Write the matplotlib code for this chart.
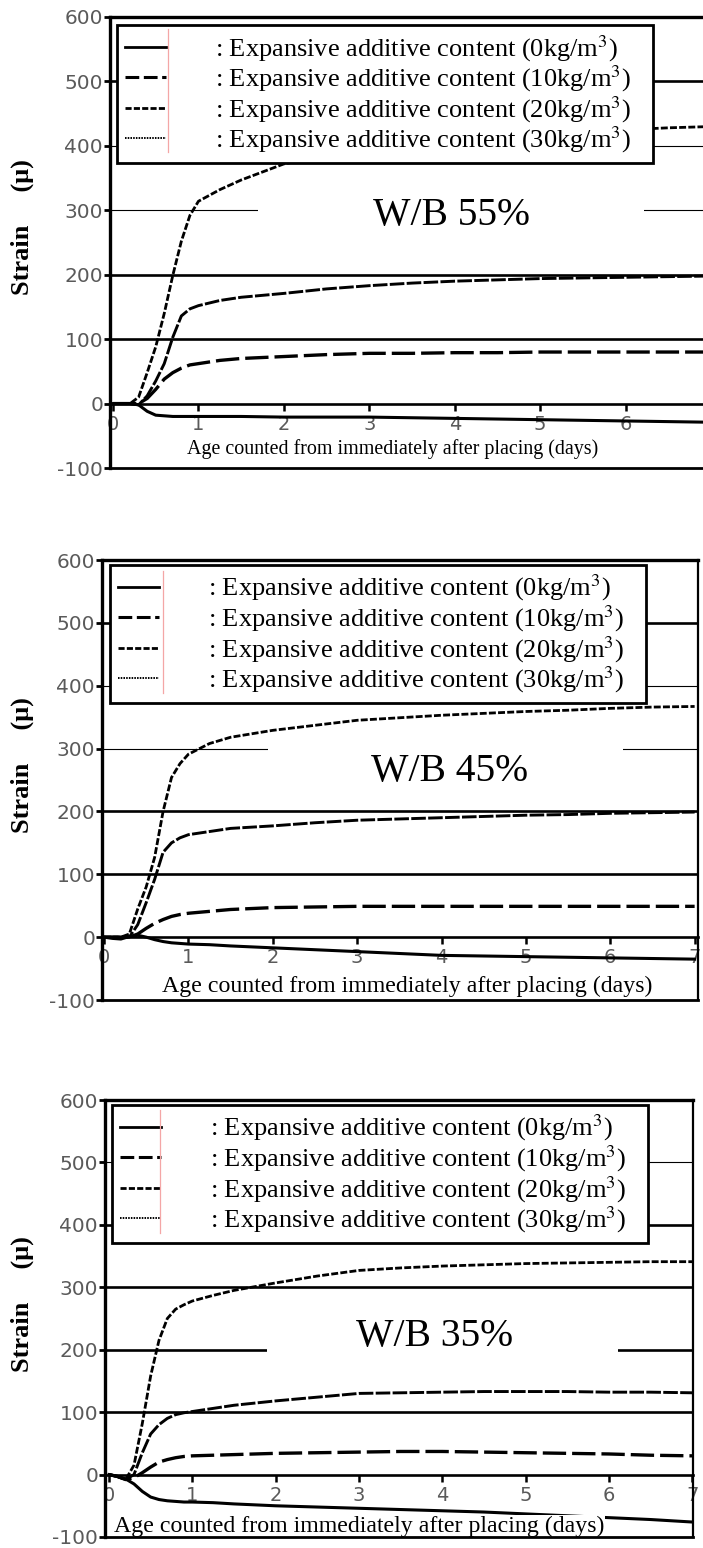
import matplotlib
matplotlib.use("Agg")
import matplotlib.pyplot as plt
from matplotlib.lines import Line2D
from matplotlib.patches import Rectangle

plt.rcParams["mathtext.fontset"] = "stix"
plt.rcParams["axes.unicode_minus"] = False

SERIF = "Liberation Serif"

# sampling days shared by all curves (days after placing)
days = [0, 0.1, 0.2, 0.3, 0.4, 0.5, 0.6, 0.7, 0.8, 0.9, 1.0, 1.25, 1.5,
        2, 2.5, 3, 3.5, 4, 4.5, 5, 5.5, 6, 6.5, 7]

contents = [0, 10, 20, 30]  # kg/m3

# W/B 55%
wb55_0 = [0, 0, 0, -2, -12, -18, -19, -20, -20, -20, -20, -20, -20,
          -21, -21, -21, -22, -23, -24, -25, -26, -27, -28, -29]
wb55_10 = [0, 0, 0, 0, 8, 22, 38, 48, 55, 60, 62, 67, 70,
           73, 76, 78, 78, 79, 79, 80, 80, 80, 80, 80]
wb55_20 = [0, 0, 0, -2, 12, 35, 62, 103, 136, 147, 152, 160, 165,
           171, 178, 183, 187, 190, 192, 194, 195, 196, 197, 198]
wb55_30 = [0, 0, 0, 10, 48, 88, 140, 199, 252, 292, 314, 332, 347,
           372, 385, 395, 403, 410, 415, 419, 422, 425, 428, 430]

# W/B 45%
wb45_0 = [0, -2, -3, 1, 3, 0, -4, -7, -9, -10, -11, -12, -14,
          -17, -20, -23, -26, -29, -30, -31, -32, -33, -34, -35]
wb45_10 = [0, 0, 0, 0, 5, 14, 22, 28, 33, 36, 38, 41, 44,
           47, 48, 49, 49, 49, 49, 49, 49, 49, 49, 49]
wb45_20 = [0, 0, 0, 0, 20, 55, 92, 135, 150, 158, 163, 168, 173,
           177, 182, 186, 188, 190, 192, 194, 195, 197, 198, 199]
wb45_30 = [0, 0, 0, 5, 45, 80, 127, 200, 254, 276, 291, 308, 318,
           329, 337, 345, 349, 353, 356, 359, 361, 364, 366, 367]

# W/B 35%
wb35_0 = [0, -3, -7, -15, -27, -36, -40, -42, -43, -44, -44, -45, -47,
          -50, -52, -54, -56, -58, -60, -63, -66, -69, -72, -76]
wb35_10 = [0, -3, -8, -5, 3, 12, 20, 24, 27, 29, 30, 31, 32,
           34, 35, 36, 37, 37, 36, 35, 34, 33, 31, 30]
wb35_20 = [0, -3, -8, 0, 35, 65, 80, 90, 96, 99, 101, 106, 111,
           118, 124, 130, 131, 132, 133, 133, 133, 132, 132, 131]
wb35_30 = [0, -3, -8, 15, 82, 158, 215, 250, 265, 272, 278, 287, 295,
           307, 318, 327, 331, 334, 336, 338, 339, 340, 341, 341]

panel_titles = ["W/B 55%", "W/B 45%", "W/B 35%"]
panel_series = [
    [wb55_0, wb55_10, wb55_20, wb55_30],
    [wb45_0, wb45_10, wb45_20, wb45_30],
    [wb35_0, wb35_10, wb35_20, wb35_30],
]

y_ticks = [-100, 0, 100, 200, 300, 400, 500, 600]
x_ticks = [0, 1, 2, 3, 4, 5, 6, 7]
xlabel_text = "Age counted from immediately after placing (days)"
ylabel_text = "Strain     (\u03bc)"

# ---- layout (pixels of the 703 x 1548 image) ----
W, H = 703, 1548
panels = [
    dict(px=(110, 712, 17, 468), xlim=(-0.035, 7.01),
         grid={100: "thick", 200: "thick", 300: "thin", 400: "thin", 500: "thick"},
         text_xy=(3.96, 292), box=(1.70, 255, 4.51, 70),
         xlab_xy=(3.27, -70), xlab_size=14.4,
         leg_anchor=(0.0116, 0.982), pink=(0.0963, 0.70, 0.973),
         right_spine=False),
    dict(px=(102, 698, 560, 1000), xlim=(-0.024, 7.04),
         grid={100: "thick", 200: "thick", 300: "thin", 400: "thin", 500: "thick"},
         text_xy=(4.09, 264), box=(1.94, 215, 4.21, 105),
         xlab_xy=(3.59, -78), xlab_size=17.2,
         leg_anchor=(0.0134, 0.9886), pink=(0.1023, 0.698, 0.975),
         right_spine=True),
    dict(px=(105, 693, 1100, 1537), xlim=(-0.048, 7.01),
         grid={100: "thick", 200: "thick", 300: "thick", 400: "thick", 500: "thin"},
         text_xy=(3.91, 221), box=(1.90, 160, 4.21, 120),
         xlab_xy=(3.0, -83), xlab_size=17.2,
         leg_anchor=(0.0119, 0.9886), pink=(0.0935, 0.696, 0.977),
         right_spine=True),
]

styles = [
    dict(linestyle="-", linewidth=2.2),
    dict(linestyle=(0, (7, 1.8)), linewidth=2.4),
    dict(linestyle=(0, (5, 0.8)), linewidth=2.1),
    dict(linestyle=(0, (2.5, 0.8)), linewidth=2.0),
]
legend_styles = [
    dict(linestyle="-", linewidth=2.0),
    dict(linestyle=(0, (4.5, 1.5)), linewidth=2.2),
    dict(linestyle=(0, (2.2, 0.8)), linewidth=2.0),
    dict(linestyle=(0, (0.8, 0.6)), linewidth=1.4),
]
legend_labels = [f": Expansive additive content ({c}kg/m$^3$)   " for c in contents]

fig = plt.figure(figsize=(W / 100, H / 100), dpi=100)

for title, series, p in zip(panel_titles, panel_series, panels):
    left, right, top, bottom = p["px"]
    ax = fig.add_axes([left / W, 1 - bottom / H, (right - left) / W, (bottom - top) / H])
    ax.set_xlim(*p["xlim"])
    ax.set_ylim(-100, 600)

    # horizontal grid lines
    for level, kind in p["grid"].items():
        ax.axhline(level, color="black", lw=1.9 if kind == "thick" else 0.8, zorder=1)

    # white box behind the panel title
    bx, by, bw, bh = p["box"]
    ax.add_patch(Rectangle((bx, by), bw, bh, facecolor="white", edgecolor="none", zorder=2))

    for vals, st in zip(series, styles):
        ax.plot(days, vals, color="black", zorder=3, **st)

    ax.text(*p["text_xy"], title, fontsize=28.5, family=SERIF,
            ha="center", va="center", zorder=4)
    ax.text(*p["xlab_xy"], xlabel_text, fontsize=p["xlab_size"], family=SERIF,
            ha="center", va="center", zorder=4,
            bbox=dict(facecolor="white", edgecolor="none", pad=0.5))

    # frame: x axis runs along zero, frame closed at -100
    ax.spines["bottom"].set_position(("data", 0))
    ax.spines["bottom"].set_linewidth(1.9)
    ax.spines["left"].set_linewidth(2.4)
    ax.spines["top"].set_linewidth(2.4)
    ax.spines["right"].set_linewidth(1.6)
    ax.spines["right"].set_visible(p["right_spine"])
    ax.axhline(-100, color="black", lw=2.0, clip_on=False, zorder=5)

    ax.set_xticks(x_ticks)
    ax.set_yticks(y_ticks)
    ax.tick_params(axis="x", direction="out", length=5, width=1.8, pad=3,
                   labelsize=14, labelcolor="#5a5a5a")
    ax.tick_params(axis="y", direction="out", length=4, width=2.0, pad=1,
                   labelsize=14.5, labelcolor="#5a5a5a")

    ax.set_ylabel(ylabel_text, family=SERIF, fontweight="bold", fontsize=19)
    ax.yaxis.label.set_va("center")
    ax.yaxis.set_label_coords((22 - left) / (right - left), 0.534)

    handles = [Line2D([], [], color="black", **st) for st in legend_styles]
    leg = ax.legend(handles, legend_labels, loc="upper left",
                    bbox_to_anchor=p["leg_anchor"], borderaxespad=0,
                    prop=dict(family=SERIF, size=19), handlelength=1.55,
                    handletextpad=1.85, labelspacing=0.0, borderpad=0.3,
                    fancybox=False, framealpha=1, edgecolor="black")
    leg.get_frame().set_linewidth(2.0)
    leg.set_zorder(6)

    px_, py0, py1 = p["pink"]
    ax.plot([px_, px_], [py0, py1], transform=ax.transAxes, color="#f4a6a6",
            lw=0.9, zorder=7, clip_on=False)

fig.savefig("out.png", dpi=100)
